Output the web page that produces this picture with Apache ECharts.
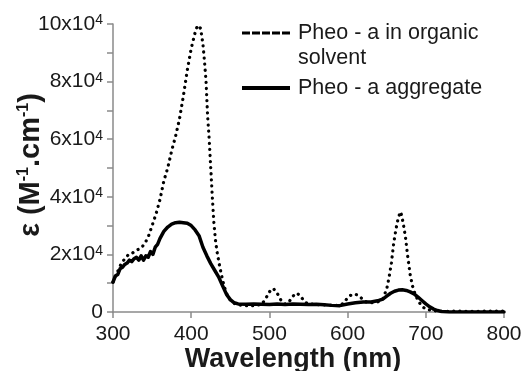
<!DOCTYPE html>
<html>
<head>
<meta charset="utf-8">
<script src="https://cdn.jsdelivr.net/npm/echarts@6/dist/echarts.min.js"></script>
<style>
  html, body { margin: 0; padding: 0; background: #fff; }
  #chart { width: 522px; height: 371px; }
</style>
</head>
<body>
<div id="chart"></div>
<script>
// 有机溶剂中的 Pheo-a（点线）
const organicX = [300, 305, 310, 315, 320, 325, 330, 335, 340, 345, 350, 355, 360, 365, 370, 375, 380, 385, 390, 395, 400, 405, 408, 410, 412, 415, 417, 419, 421, 423, 425, 427, 429, 431, 433, 436, 439, 442, 446, 450, 455, 460, 470, 480, 490, 495, 500, 505, 510, 515, 520, 525, 530, 535, 540, 545, 550, 560, 570, 580, 590, 595, 600, 605, 610, 615, 620, 625, 630, 640, 645, 650, 653, 656, 659, 662, 665, 668, 671, 674, 677, 680, 683, 686, 690, 695, 700, 710, 720, 740, 760, 780, 800]
const organicY = [10400, 13500, 16500, 18500, 20000, 20500, 21500, 22000, 23500, 26000, 30000, 34000, 39000, 45500, 50000, 56000, 61000, 67000, 75000, 84000, 91500, 97000, 99500, 100000, 98500, 93000, 87000, 80000, 68000, 60000, 50000, 40000, 31000, 25000, 21000, 16500, 12500, 9000, 6000, 4200, 3000, 2500, 2200, 2200, 2600, 4500, 7000, 8200, 6500, 4000, 2800, 3500, 5500, 6600, 5500, 3500, 2800, 2600, 2500, 2300, 2300, 3000, 5000, 6000, 6200, 5500, 4200, 3300, 3200, 3600, 4500, 8000, 12000, 17000, 24000, 29000, 33000, 34800, 31000, 26000, 19000, 13000, 9000, 6500, 4000, 2000, 1000, 400, 200, 300, 200, 300, 300]

// Pheo-a 聚集体（实线）
const aggregateX = [300, 303, 306, 309, 312, 315, 318, 321, 324, 327, 330, 333, 336, 339, 342, 345, 348, 351, 354, 357, 360, 365, 370, 375, 380, 385, 390, 395, 400, 405, 410, 415, 420, 425, 430, 435, 440, 445, 450, 455, 460, 470, 480, 490, 500, 510, 520, 530, 540, 550, 560, 570, 580, 590, 600, 610, 620, 630, 640, 645, 650, 655, 660, 665, 670, 675, 680, 685, 690, 695, 700, 705, 710, 715, 720, 730, 800]
const aggregateY = [10400, 12500, 13000, 15000, 15500, 16500, 17000, 18000, 17500, 18500, 19000, 18000, 19500, 18000, 19500, 19000, 21000, 20000, 22500, 23500, 25500, 28000, 29500, 30500, 31000, 31200, 31000, 30800, 30000, 28500, 26500, 22500, 19500, 16800, 14500, 12200, 9200, 6200, 4300, 3200, 2800, 2700, 2800, 2700, 2600, 2800, 2600, 2800, 2700, 2600, 2700, 2500, 2300, 2200, 2800, 3200, 3500, 3500, 4000, 4500, 5500, 6500, 7200, 7600, 7700, 7500, 7000, 6300, 5200, 4000, 2800, 1800, 1000, 500, 200, 0, 0]

const xTicks = { min: 300, max: 800, interval: 100 }
const yTicks = { min: 0, max: 100000, interval: 20000 }

const organicName = 'Pheo - a in organic solvent'
const aggregateName = 'Pheo - a aggregate'

const font = '"Liberation Sans", Arial, sans-serif'
const axisGray = '#8a8a8a'
const textColor = '#1a1a1a'

// 图例图标：虚线和实线
const dashIcon = 'path://M0,0h8v3h-8z M10,0h8v3h-8z M20,0h8v3h-8z M30,0h8v3h-8z M40,0h8v3h-8z'
const solidIcon = 'path://M0,0h48v4h-48z'

const chart = echarts.init(document.getElementById('chart'))

const option = {
  animation: false,
  textStyle: { fontFamily: font, color: textColor },
  grid: { left: 113, right: 18, top: 24, bottom: 59, outerBoundsMode: 'none' },
  legend: [
    {
      data: [{ name: organicName, icon: dashIcon }],
      left: 242,
      top: 19.5,
      padding: 0,
      itemWidth: 48,
      itemHeight: 3,
      itemStyle: { color: '#000' },
      formatter: () => 'Pheo - a in organic',
      textStyle: { fontFamily: font, fontSize: 21.5, color: textColor, lineHeight: 27, padding: [0, 0, 0, 3] }
    },
    {
      data: [{ name: aggregateName, icon: solidIcon }],
      left: 242,
      top: 74.5,
      padding: 0,
      itemWidth: 48,
      itemHeight: 4,
      itemStyle: { color: '#000' },
      textStyle: { fontFamily: font, fontSize: 21.5, color: textColor, lineHeight: 27, padding: [0, 0, 0, 3] }
    }
  ],
  graphic: [
    {
      type: 'text',
      left: 298,
      top: 47,
      style: { text: 'solvent', font: '21.5px ' + font, fill: textColor }
    }
  ],
  xAxis: {
    type: 'value',
    min: xTicks.min,
    max: xTicks.max,
    interval: xTicks.interval,
    name: 'Wavelength (nm)',
    nameLocation: 'middle',
    nameGap: 34,
    nameMoveOverlap: false,
    nameTextStyle: { fontFamily: font, fontSize: 27, fontWeight: 'bold', color: textColor, padding: [0, 31, 0, 0] },
    axisLine: { lineStyle: { color: axisGray, width: 1.5 } },
    axisTick: { show: true, length: 6, lineStyle: { color: axisGray, width: 1.5 } },
    axisLabel: { fontFamily: font, fontSize: 21, color: textColor, margin: 12 },
    splitLine: { show: false }
  },
  yAxis: {
    type: 'value',
    min: yTicks.min,
    max: yTicks.max,
    interval: yTicks.interval,
    name: 'ε (M{sup|-1}.cm{sup|-1})',
    nameLocation: 'middle',
    nameRotate: 90,
    nameGap: 68,
    nameMoveOverlap: false,
    nameTextStyle: {
      fontFamily: font, fontSize: 29, fontWeight: 'bold', color: textColor,
      padding: [0, 0, 0, 6],
      rich: {
        sup: { fontFamily: font, fontSize: 16, fontWeight: 'bold', color: textColor, verticalAlign: 'top' }
      }
    },
    axisLine: { show: true, lineStyle: { color: axisGray, width: 1.5 } },
    axisTick: { show: true, length: 6, lineStyle: { color: axisGray, width: 1.5 } },
    minorTick: { show: true, splitNumber: 2, length: 6, lineStyle: { color: axisGray, width: 1.5 } },
    axisLabel: {
      fontFamily: font, fontSize: 21, color: textColor, margin: 10,
      formatter: v => v === 0 ? '0' : (v / 10000) + 'x10{sup|4}',
      rich: {
        sup: { fontFamily: font, fontSize: 14, color: textColor, verticalAlign: 'top' }
      }
    },
    splitLine: { show: false }
  },
  series: [
    {
      name: organicName,
      type: 'line',
      symbol: 'none',
      data: organicX.map((x, i) => [x, organicY[i]]),
      lineStyle: { color: '#000', width: 3.2, type: [0.1, 6], cap: 'round' },
      z: 2
    },
    {
      name: aggregateName,
      type: 'line',
      symbol: 'none',
      data: aggregateX.map((x, i) => [x, aggregateY[i]]),
      lineStyle: { color: '#000', width: 3.5, cap: 'round', join: 'round' },
      z: 3
    }
  ]
}

chart.setOption(option)
</script>
</body>
</html>
